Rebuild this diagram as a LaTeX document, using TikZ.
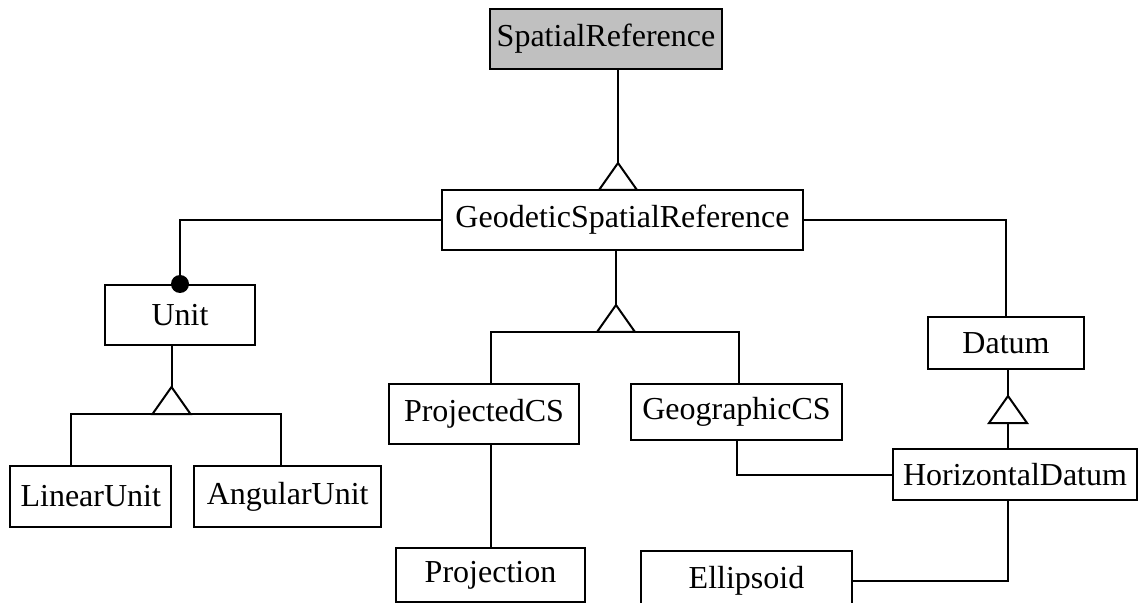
\documentclass[tikz,border=0pt]{standalone}
\usepackage{fontspec}
\setmainfont{Liberation Serif}
\usetikzlibrary{calc}
\definecolor{rootgray}{HTML}{C0C0C0}
\begin{document}
\begin{tikzpicture}[x=0.5pt,y=-0.5pt,
  cls/.style={draw, line width=1pt, inner sep=0pt, fill=white,
    font=\fontsize{16}{19}\selectfont},
  conn/.style={line width=1pt},
  gentri/.pic={\draw[line width=1pt, fill=white] (-19,0) -- (0,-27) -- (19,0) -- cycle;}
]
\useasboundingbox (0,0) rectangle (1138,603);
\clip (0,0) rectangle (1138,603);

% classes
\node[cls, fill=rootgray, minimum width=116pt, minimum height=30pt] (sr) at (606,39) {SpatialReference};
\node[cls, minimum width=180.5pt, minimum height=30pt] (gsr) at (622.5,220) {GeodeticSpatialReference};
\node[cls, minimum width=75pt, minimum height=30pt] (unit) at (180,315) {Unit};
\node[cls, minimum width=80.5pt, minimum height=30.5pt] (lin) at (90.75,496.5) {LinearUnit};
\node[cls, minimum width=93.5pt, minimum height=30.5pt] (ang) at (287.75,496.5) {AngularUnit};
\node[cls, minimum width=95pt, minimum height=30pt] (pcs) at (484,414) {ProjectedCS};
\node[cls, minimum width=105.5pt, minimum height=28pt] (gcs) at (736.5,412) {GeographicCS};
\node[cls, minimum width=94.5pt, minimum height=27pt] (proj) at (490.5,575) {Projection};
\node[cls, minimum width=78pt, minimum height=26pt] (datum) at (1006,343) {Datum};
\node[cls, minimum width=122pt, minimum height=25.5pt] (hd) at (1015,474.5) {HorizontalDatum};
\node[cls, minimum width=105.5pt, minimum height=30pt] (ell) at (746.5,581) {Ellipsoid};

% junction points (base centres of the generalization triangles)
\coordinate (t1) at (618,190);
\coordinate (t2) at (616,332);
\coordinate (t3) at (171.5,414);
\coordinate (t4) at (1008,423);
\coordinate (b1) at (491,332);
\coordinate (b2) at (739,332);
\coordinate (b3) at (71,414);
\coordinate (b4) at (281,414);

% SpatialReference <- GeodeticSpatialReference
\draw[conn] (t1 |- sr.south) -- ($(t1)+(0,-27)$);
\pic at (t1) {gentri};

% GeodeticSpatialReference <- ProjectedCS, GeographicCS
\draw[conn] (t2 |- gsr.south) -- ($(t2)+(0,-27)$);
\draw[conn] (b1 |- pcs.north) -- (b1) -- (b2) -- (b2 |- gcs.north);
\pic at (t2) {gentri};

% Unit <- LinearUnit, AngularUnit
\draw[conn] (t3 |- unit.south) -- ($(t3)+(0,-27)$);
\draw[conn] (b3 |- lin.north) -- (b3) -- (b4) -- (b4 |- ang.north);
\pic at (t3) {gentri};

% Datum <- HorizontalDatum
\draw[conn] (t4 |- datum.south) -- ($(t4)+(0,-27)$);
\draw[conn] (t4) -- (t4 |- hd.north);
\pic at (t4) {gentri};

% associations
\draw[conn] (gsr.west) -| (unit.north);
\fill (unit.north) circle (9);
\draw[conn] (gsr.east) -| (datum.north);
\draw[conn] (b1 |- pcs.south) -- (b1 |- proj.north);
\draw[conn] (gcs.south) |- (hd.west);
\draw[conn] (t4 |- hd.south) |- (ell.east);
\end{tikzpicture}
\end{document}
